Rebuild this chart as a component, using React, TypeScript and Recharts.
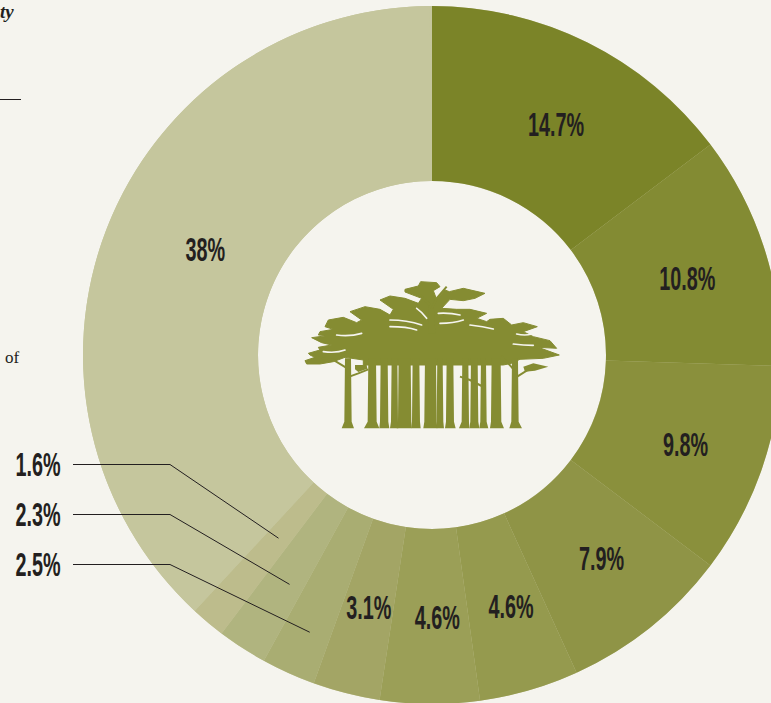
import React from "react";
import { PieChart, Pie, Cell } from "recharts";

const shareLabels = ["14.7%", "10.8%", "9.8%", "7.9%", "4.6%", "4.6%", "3.1%", "2.5%", "2.3%", "1.6%", "38%"];
const shareValues = [14.7, 10.8, 9.8, 7.9, 4.6, 4.6, 3.1, 2.5, 2.3, 1.6, 38];
const shareColors = [
  "#7b8428", "#838b33", "#8a903c", "#8f9446", "#959a4e", "#9b9f57", "#a3a565",
  "#a9ad72", "#b0b47f", "#bdbc8c", "#c5c69d",
];

const slices = shareValues.map((value, i) => ({ value, label: shareLabels[i] }));
const total = shareValues.reduce((sum, v) => sum + v, 0);

const PAGE = "#f5f4ee";
const INK = "#231f20";
const LEAF = "#858c32";
const CX = 432;
const CY = 355;
const INNER = 174;
const OUTER = 349;

// small slices get their number in the left margin, joined by an elbow line;
// turn swings the line's tip a little off the slice's middle, in degrees
const callouts: Record<string, { lineY: number; reach: number; turn: number }> = {
  "2.5%": { lineY: 564.5, reach: 303, turn: 0.5 },
  "2.3%": { lineY: 514.5, reach: 270, turn: 1.1 },
  "1.6%": { lineY: 464.5, reach: 239, turn: 0 },
};

// hand adjustments so the numbers sit where the layout wants them
const labelNudges = [[7.5, 4], [6, 3], [7, 3], [6, 0], [6, 1], [7, 2], [1, 0], [0, 0], [0, 0], [0, 0], [17, -10]];

// no condensed face is installed, so the bold sans is squeezed horizontally
const Num = ({ x, y, children }: { x: number; y: number; children: string }) => (
  <text
    transform={`translate(${x} ${y + 11}) scale(0.6 1)`}
    textAnchor="middle"
    fontFamily="'Liberation Sans', sans-serif"
    fontWeight={700}
    fontSize={33}
    fill={INK}
  >
    {children}
  </text>
);

const SliceLabel = (props: any) => {
  const { cx, cy, midAngle, innerRadius, outerRadius, payload, index } = props;
  const rad = (midAngle * Math.PI) / 180;
  const callout = callouts[payload.label];
  if (callout) {
    const tip = ((midAngle + callout.turn) * Math.PI) / 180;
    const ex = cx + callout.reach * Math.cos(tip);
    const ey = cy - callout.reach * Math.sin(tip);
    return (
      <g>
        <polyline
          points={`73,${callout.lineY} 170,${callout.lineY} ${ex},${ey}`}
          fill="none"
          stroke={INK}
          strokeWidth={1}
        />
        <Num x={38} y={callout.lineY}>{payload.label}</Num>
      </g>
    );
  }
  const r = (innerRadius + outerRadius) / 2;
  const [dx, dy] = labelNudges[index];
  return (
    <Num x={cx + r * Math.cos(rad) + dx} y={cy - r * Math.sin(rad) + dy}>
      {payload.label}
    </Num>
  );
};

// banyan trunks: [top left, top right, base left, base right], in icon units
const trunks = [
  [165, 183, 155, 192], [235, 258, 222, 268], [272, 293, 268, 298], [305, 322, 300, 325],
  [326, 362, 320, 366], [368, 388, 365, 392], [405, 438, 400, 442], [442, 458, 440, 462],
  [470, 490, 465, 497], [517, 535, 507, 538], [543, 563, 538, 568], [573, 588, 568, 595],
  [605, 632, 600, 642], [666, 684, 658, 696],
];

// outline of the whole canopy, notched between the leaf clumps
const canopy =
  "45,272 75,262 60,255 55,250 90,240 85,232 125,225 95,218 65,203 110,197 85,195 90,185 130,178 105,170 " +
  "115,150 160,142 200,158 215,150 180,125 225,110 270,118 300,135 310,118 270,90 300,78 345,85 385,100 " +
  "395,85 345,66 345,58 385,48 392,35 440,38 450,50 430,62 440,88 465,60 478,65 520,55 585,70 555,85 " +
  "520,92 480,88 455,115 500,118 540,118 590,130 560,145 590,155 600,148 640,145 665,165 700,158 742,170 " +
  "700,185 730,200 780,212 800,235 745,232 808,255 760,265 690,268 665,280 640,285 220,285 220,270 " +
  "165,262 130,275 90,282 50,282";

const gaps = [
  "M380 115 Q395 125 410 145",
  "M445 130 Q480 128 510 135",
  "M140 195 Q180 200 215 190",
  "M100 245 Q140 250 165 240",
  "M300 150 Q350 150 395 165",
  "M450 160 Q490 160 520 150",
  "M540 165 Q580 170 610 177",
  "M680 192 Q705 198 725 192",
  "M670 222 Q700 226 730 226",
  "M300 170 Q350 170 380 180",
];

const boughs = [
  "M425 115 L440 85 L470 50",
  "M420 105 L395 78 L345 60",
  "M172 295 L130 270 L85 262",
  "M172 322 L205 310 L235 298",
  "M678 322 L710 302 L735 295",
  "M668 295 L635 258",
  "M510 320 L540 330 L575 348",
];

const Banyan = () => (
  <svg width={771} height={703} style={{ position: "absolute", left: 0, top: 0 }}>
    <g transform="translate(290 270) scale(0.3333)" fill={LEAF}>
      <polygon points={canopy} stroke={LEAF} strokeWidth={3} />
      <g fill="none" stroke={PAGE} strokeWidth={5} strokeLinecap="round">
        {gaps.map((d) => (
          <path key={d} d={d} />
        ))}
      </g>
      {trunks.map(([tl, tr, bl, br]) => (
        <path
          key={tl}
          d={`M${tl} 265 L${tr} 265 L${tr + 2} 455 L${br} 475 L${bl} 475 L${tl - 2} 455 Z`}
        />
      ))}
      <path d="M414 190 L417 105 L431 105 L436 190 Z" />
      <polygon points="195,285 230,285 232,296 205,306 195,298" />
      <polygon points="700,290 730,280 775,290 735,302 705,305" />
      <g fill="none" stroke={LEAF} strokeWidth={6}>
        {boughs.map((d) => (
          <path key={d} d={d} />
        ))}
      </g>
    </g>
  </svg>
);

export default function App() {
  return (
    <div style={{ position: "absolute", left: 0, top: 0, width: 771, height: 703, overflow: "hidden", background: PAGE }}>
      <PieChart width={800} height={720} margin={{ top: 0, right: 0, bottom: 0, left: 0 }}>
        {/* full ring underneath, the printed shares add up to a little under 100 */}
        <Pie
          data={[{ value: 1 }]}
          dataKey="value"
          cx={CX}
          cy={CY}
          innerRadius={INNER}
          outerRadius={OUTER}
          startAngle={90}
          endAngle={-270}
          stroke="none"
          fill={shareColors[10]}
          isAnimationActive={false}
        />
        <Pie
          data={slices}
          dataKey="value"
          cx={CX}
          cy={CY}
          innerRadius={INNER}
          outerRadius={OUTER}
          startAngle={90}
          endAngle={90 - total * 3.6}
          stroke="#dcdcc4"
          strokeWidth={0.5}
          label={SliceLabel}
          labelLine={false}
          isAnimationActive={false}
        >
          {slices.map((s, i) => (
            <Cell key={i} fill={shareColors[i]} stroke={i === slices.length - 1 ? "none" : undefined} />
          ))}
        </Pie>
      </PieChart>
      <Banyan />
      <svg width={771} height={703} style={{ position: "absolute", left: 0, top: 0 }}>
        <text x={0} y={18} fontFamily="'Liberation Serif', serif" fontWeight={700} fontStyle="italic" fontSize={19} fill={INK}>ty</text>
        <line x1={0} x2={21} y1={99.5} y2={99.5} stroke={INK} strokeWidth={1} />
        <text x={5} y={363} fontFamily="'Liberation Serif', serif" fontSize={17} fill={INK}>of</text>
      </svg>
    </div>
  );
}
